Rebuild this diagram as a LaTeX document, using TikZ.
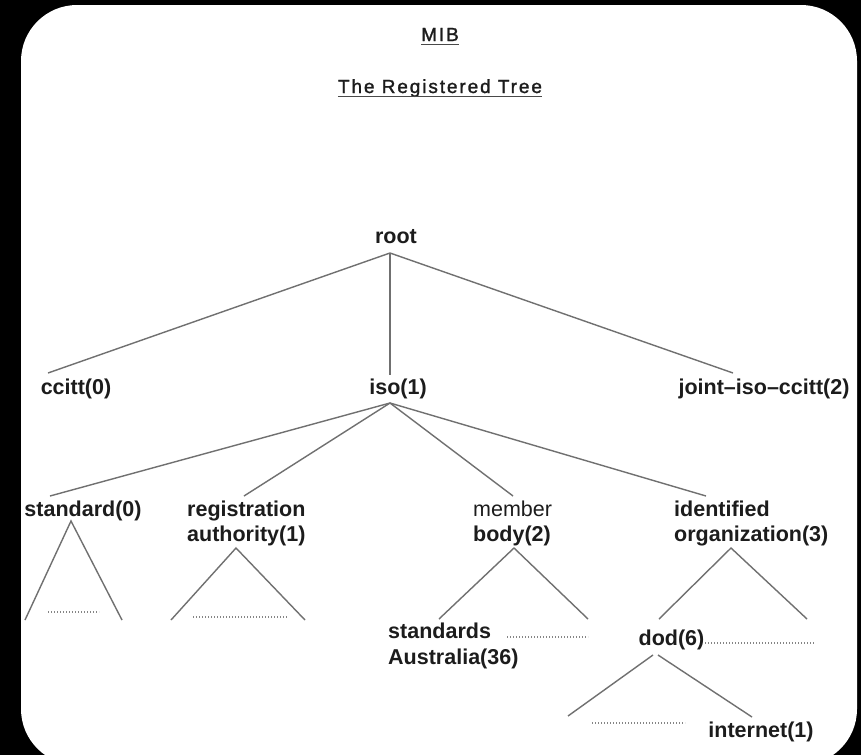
\documentclass[tikz,border=0pt]{standalone}
\usepackage{fontspec}
\setmainfont{Liberation Sans}
\newfontfamily\titlefont[LetterSpace=10,FakeBold=1.5]{Liberation Sans}
\usetikzlibrary{positioning}
\definecolor{inkgray}{RGB}{28,28,28}
\definecolor{wiregray}{RGB}{112,112,112}
\tikzset{
  lbl/.style={font=\fontsize{21.5}{25.5}\selectfont\bfseries,text=inkgray,
              inner sep=0pt,align=left},
  ttl/.style={font=\titlefont\fontsize{19}{22}\selectfont,text=inkgray,
              inner sep=0pt,anchor=base},
  wire/.style={draw=wiregray,line width=1.4pt},
  dots/.style={draw=wiregray!85,line width=1.1pt,dash pattern=on 1.1pt off 1.9pt}
}

\begin{document}
\begin{tikzpicture}[x=1pt,y=-1pt,
  uline/.style={draw=inkgray!80,line width=1.3pt}]
  \useasboundingbox (0,0) rectangle (861,755);
  \clip (0,0) rectangle (861,755);
  \fill[black] (0,0) rectangle (861,755);
  \fill[white,rounded corners=56pt] (21,5) rectangle (857,765);

  % headings
  \node[ttl] (mib) at (440,41) {MIB};
  \node[ttl] (regtree) at (440,93) {The Registered Tree};
  \draw[uline] ([yshift=-3.5pt]mib.base west) -- ([yshift=-3.5pt]mib.base east);
  \draw[uline] ([yshift=-3.5pt]regtree.base west) -- ([yshift=-3.5pt]regtree.base east);

  % tree labels
  \node[lbl] (root) at (396,237) {root};
  \node[lbl] (ccitt) at (76,389) {ccitt(0)};
  \node[lbl] (iso) at (398,389) {iso(1)};
  \node[lbl] (joint) at (764,389) {joint--iso--ccitt(2)};
  \node[lbl] (std) at (83,511) {standard(0)};
  \node[lbl,anchor=west] (regauth) at (187,523.5) {registration\\authority(1)};
  \node[lbl,anchor=west] (member) at (473,523.5) {{\mdseries member}\\body(2)};
  \node[lbl,anchor=west] (identorg) at (674,523.5) {identified\\organization(3)};
  \node[lbl,anchor=west] (stdaus) at (388,646) {standards\\Australia(36)};
  \node[lbl] (dod) at (671.5,640) {dod(6)};
  \node[lbl] (internet) at (761,732) {internet(1)};

  % line ends
  \coordinate (root-b) at (390,253);
  \coordinate (ccitt-t) at (48,373);
  \coordinate (iso-t) at (390,375);
  \coordinate (joint-t) at (733,373);
  \coordinate (iso-b) at (390,403);
  \coordinate (std-t) at (50,496);
  \coordinate (regauth-t) at (244,496);
  \coordinate (member-t) at (513,496);
  \coordinate (identorg-t) at (706,496);
  \coordinate (std-b) at (71,521);
  \coordinate (regauth-b) at (236,548);
  \coordinate (member-b) at (514,548);
  \coordinate (identorg-b) at (731,548);
  \coordinate (dod-bl) at (653,655);
  \coordinate (dod-br) at (658,655);
  \coordinate (dod-e) at (705,643);

  \foreach \c in {ccitt-t,iso-t,joint-t}
    \draw[wire] (root-b) -- (\c);
  \foreach \c in {std-t,regauth-t,member-t,identorg-t}
    \draw[wire] (iso-b) -- (\c);

  % subtrees
  \draw[wire] (25,620) -- (std-b) -- (122,620);
  \draw[wire] (171,620) -- (regauth-b) -- (305,620);
  \draw[wire] (439,619) -- (member-b) -- (588,619);
  \draw[wire] (659,619) -- (identorg-b) -- (807,619);
  \draw[wire] (dod-bl) -- (568,716);
  \draw[wire] (dod-br) -- (752,717);

  \draw[dots] (48,612) -- (99,612);
  \draw[dots] (193,617) -- (288,617);
  \draw[dots] (507,637) -- (588,637);
  \draw[dots] (dod-e) -- (815,643);
  \draw[dots] (592,723) -- (685,723);
\end{tikzpicture}
\end{document}
